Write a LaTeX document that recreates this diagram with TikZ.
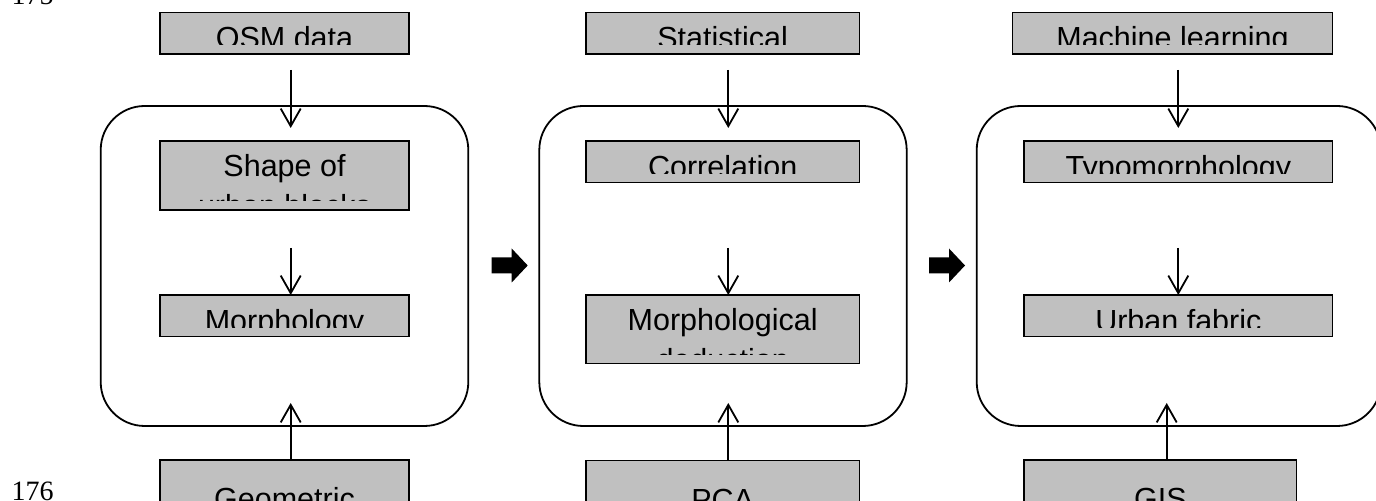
\documentclass[tikz,border=0pt]{standalone}
\usepackage[svgnames]{xcolor}
\usepackage{fontspec}
\setmainfont{Liberation Sans}
\newfontfamily\linenofont{Liberation Serif}
\usetikzlibrary{arrows.meta}
\newcommand\boxfont{\fontsize{15.25}{19.75}\selectfont}

\begin{document}
\begin{tikzpicture}[x=0.5pt, y=-0.5pt,
      every node/.append style={inner sep=0pt, outer sep=0pt},
      block/.style={draw, fill=Silver, line width=0.75pt,
        path picture={
          \clip ([yshift=4.5pt]path picture bounding box.south west)
            rectangle (path picture bounding box.north east);
          \node [anchor=north, align=center, font=\boxfont]
            at ([yshift=-3.7pt]path picture bounding box.north) {\strut #1};}},
      link/.style={-{Straight Barb[length=8.8pt,width=10pt]}, line width=0.9pt}]
  \tikzstyle{stage} = [draw, rounded corners=22pt, line width=0.9pt, minimum height=160pt]
  \tikzstyle{lineno} = [anchor=base west, font=\linenofont\fontsize{14}{16}\selectfont]
  \useasboundingbox (0,0) rectangle (1376,501);
  \clip (0,0) rectangle (1376,501);

  \node (line175) [lineno] at (11.5,4.5) {175};
  \node (line176) [lineno] at (11.5,500.2) {176};

  % the three stages
  \node (stage1) [stage, minimum width=183.8pt] at (284.5,266) {};
  \node (stage2) [stage, minimum width=183.7pt] at (723,266) {};
  \node (stage3) [stage, minimum width=202.15pt] at (1178.85,266) {};
  \coordinate (ax1) at (290.7,0);
  \coordinate (ax2) at (728.3,0);
  \coordinate (ax3) at (1178.3,0);
  \coordinate (ax3up) at (1166.7,0);

  % stage 1
  \node (osm) [block={OSM data}, minimum width=124.5pt, minimum height=20.85pt] at (284.5,33.15) {};
  \node (shape) [block={Shape of\\urban blocks}, minimum width=124.5pt, minimum height=34.5pt] at (284.5,175.5) {};
  \node (morph) [block={Morphology}, minimum width=124.5pt, minimum height=20.85pt] at (284.5,315.85) {};
  \node (geo) [block={Geometric}, minimum width=124.5pt, minimum height=34.5pt] at (284.5,494.5) {};
  \draw[link, shorten <=8pt, shorten >=6.5pt] (osm.south -| ax1) -- (shape.north -| ax1);
  \draw[link, shorten <=19pt] (shape.south -| ax1) -- (morph.north -| ax1);
  \draw[link, shorten >=-11.5pt] (geo.north -| ax1) -- (stage1.south -| ax1);

  % stage 2
  \node (stat) [block={Statistical}, minimum width=136.65pt, minimum height=20.85pt] at (722.65,33.15) {};
  \node (corr) [block={Correlation}, minimum width=136.65pt, minimum height=20.85pt] at (722.65,161.85) {};
  \node (deduct) [block={Morphological\\deduction}, minimum width=136.65pt, minimum height=34.25pt] at (722.65,329.25) {};
  \node (pca) [block={PCA}, minimum width=136.65pt, minimum height=34.5pt] at (722.65,495) {};
  \draw[link, shorten <=8pt, shorten >=6.5pt] (stat.south -| ax2) -- (corr.north -| ax2);
  \draw[link, shorten <=32.65pt] (corr.south -| ax2) -- (deduct.north -| ax2);
  \draw[link, shorten >=-11.5pt] (pca.north -| ax2) -- (stage2.south -| ax2);

  % stage 3
  \node (ml) [block={Machine learning}, minimum width=160.2pt, minimum height=20.85pt] at (1172.5,33.15) {};
  \node (typo) [block={Typomorphology}, minimum width=154.35pt, minimum height=20.85pt] at (1178.35,161.85) {};
  \node (fabric) [block={Urban fabric}, minimum width=154.35pt, minimum height=20.85pt] at (1178.35,315.85) {};
  \node (gis) [block={GIS}, minimum width=136.35pt, minimum height=34.5pt] at (1160.35,494.5) {};
  \draw[link, shorten <=8pt, shorten >=6.5pt] (ml.south -| ax3) -- (typo.north -| ax3);
  \draw[link, shorten <=32.65pt] (typo.south -| ax3) -- (fabric.north -| ax3);
  \draw[link, shorten >=-11.5pt] (gis.north -| ax3up) -- (stage3.south -| ax3up);

  % block arrows between stages
  \foreach \tip in {527.7,965}
    \fill (\tip,265.5) -- ++(-16,-17) -- ++(0,9) -- ++(-20,0) -- ++(0,16) -- ++(20,0) -- ++(0,9) -- cycle;
\end{tikzpicture}
\end{document}
